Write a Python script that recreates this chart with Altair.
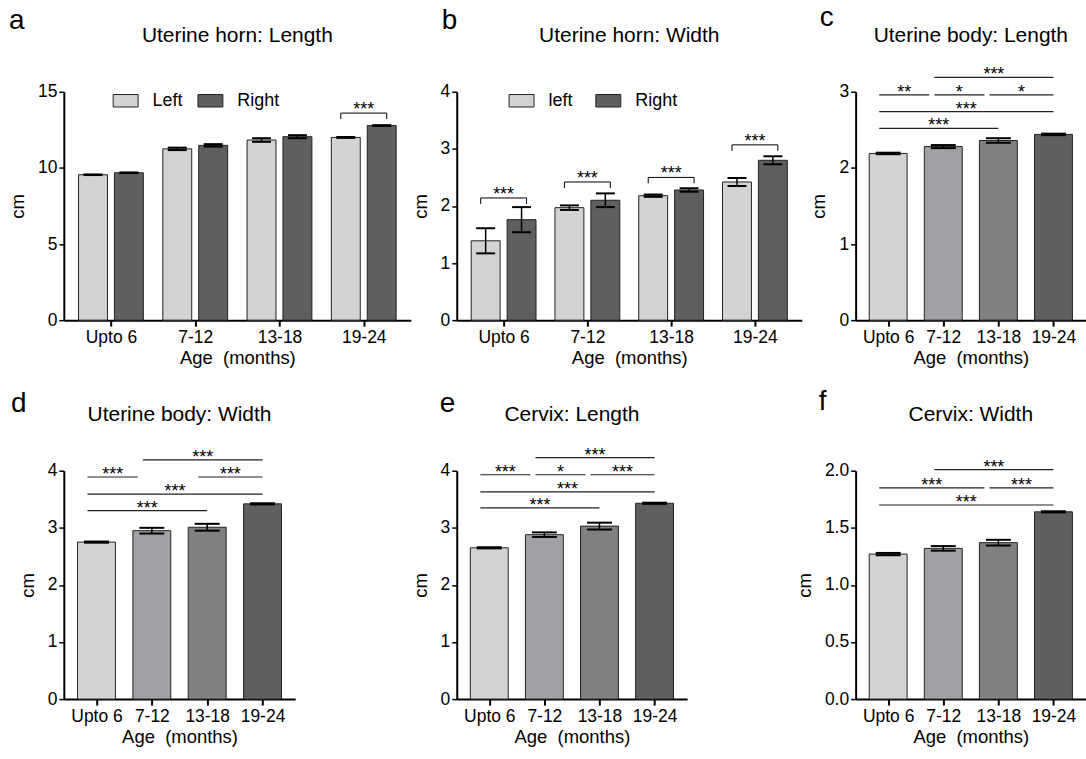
import altair as alt
import pandas as pd

FONT = "Liberation Sans"

cats = ["Upto 6", "7-12", "13-18", "19-24"]
idx = [0, 1, 2, 3]
grays = ["#d3d3d3", "#a1a1a5", "#808080", "#5f5f5f"]
pair_colors = ["#d3d3d3", "#5f5f5f"]

# ---- a: Uterine horn length (left / right)
a_left = [9.55, 11.25, 11.83, 12.00]
a_left_err = [0.02, 0.08, 0.12, 0.03]
a_right = [9.68, 11.48, 12.05, 12.78]
a_right_err = [0.02, 0.08, 0.10, 0.03]
a_br_idx = [3]
a_br_y = [13.6]
a_br_lab = ["***"]

# ---- b: Uterine horn width (left / right)
b_left = [1.39, 1.97, 2.18, 2.42]
b_left_err = [0.22, 0.04, 0.02, 0.07]
b_right = [1.76, 2.10, 2.28, 2.80]
b_right_err = [0.22, 0.12, 0.03, 0.07]
b_br_idx = [0, 1, 2, 3]
b_br_y = [2.14, 2.42, 2.50, 3.07]
b_br_lab = ["***", "***", "***", "***"]

# ---- c: Uterine body length
c_vals = [2.19, 2.28, 2.36, 2.44]
c_err = [0.01, 0.02, 0.03, 0.01]
c_start = [1, 0, 1, 2, 0, 0]
c_end = [3, 1, 2, 3, 3, 2]
c_y = [3.19, 2.96, 2.96, 2.96, 2.74, 2.52]
c_lab = ["***", "**", "*", "*", "***", "***"]
c_short = [0, 1, 1, 0, 0, 0]

# ---- d: Uterine body width
d_vals = [2.75, 2.95, 3.01, 3.42]
d_err = [0.01, 0.05, 0.06, 0.01]
d_start = [1, 0, 2, 0, 0]
d_end = [3, 1, 3, 3, 2]
d_y = [4.19, 3.89, 3.89, 3.59, 3.30]
d_lab = ["***", "***", "***", "***", "***"]
d_short = [0, 1, 0, 0, 0]

# ---- e: Cervix length
e_vals = [2.65, 2.88, 3.03, 3.43]
e_err = [0.01, 0.04, 0.06, 0.01]
e_start = [1, 0, 1, 2, 0, 0]
e_end = [3, 1, 2, 3, 3, 2]
e_y = [4.23, 3.93, 3.93, 3.93, 3.63, 3.35]
e_lab = ["***", "***", "*", "***", "***", "***"]
e_short = [0, 1, 1, 0, 0, 0]

# ---- f: Cervix width
f_vals = [1.27, 1.32, 1.37, 1.64]
f_err = [0.01, 0.02, 0.025, 0.005]
f_start = [1, 0, 2, 0]
f_end = [3, 2, 3, 3]
f_y = [2.01, 1.85, 1.85, 1.70]
f_lab = ["***", "***", "***", "***"]
f_short = [0, 1, 0, 0]

label_expr = "[" + ",".join("'" + c + "'" for c in cats) + "][datum.value]"
X_TITLE = "Age\u00a0\u00a0(months)"


def x_enc(field, width_range):
    return alt.X(
        field,
        scale=alt.Scale(domain=[-0.5, 3.5], nice=False, zero=False, range=width_range),
        axis=alt.Axis(values=idx, labelExpr=label_expr, title=X_TITLE, labelAngle=0,
                      tickSize=6, tickWidth=2, labelPadding=2, titlePadding=3,
                      labelOverlap=False, labelFlush=False, grid=False),
    )


def y_enc(field, ydom, yvals, fmt):
    return alt.Y(
        field,
        scale=alt.Scale(domain=ydom, nice=False, zero=True),
        axis=alt.Axis(values=yvals, format=fmt, title="cm", tickSize=5, tickWidth=1.5,
                      labelPadding=2, titlePadding=10, grid=False),
        stack=None,
    )


def text_layer(text, lx, ly, size, align):
    return alt.Chart(pd.DataFrame({"t": [text]})).mark_text(
        font=FONT, fontSize=size, align=align, baseline="alphabetic", color="black"
    ).encode(text="t:N", x=alt.value(lx), y=alt.value(ly))


def head_layers(title, letter, letter_pos, center):
    return [text_layer(letter, letter_pos[0], letter_pos[1], 28, "left"),
            text_layer(title, center, -50, 21, "center")]


def grouped_panel(title, letter, letter_pos, names, left, left_err, right, right_err,
                  br_idx, br_y, br_lab, ydom, yvals, fmt, width, prange, legend_x, col_pad):
    rng = [0, prange]
    layers = []
    for side, vals, errs, off in [(names[0], left, left_err, -18), (names[1], right, right_err, 18)]:
        df = pd.DataFrame({
            "idx": idx,
            "val": vals,
            "lo": [v - e for v, e in zip(vals, errs)],
            "hi": [v + e for v, e in zip(vals, errs)],
            "side": [side] * 4,
        })
        base = alt.Chart(df)
        layers.append(base.mark_bar(size=29, xOffset=off, stroke="#222", strokeWidth=1).encode(
            x=x_enc("idx:Q", rng),
            y=y_enc("val:Q", ydom, yvals, fmt),
            color=alt.Color("side:N", scale=alt.Scale(domain=names, range=pair_colors),
                            legend=alt.Legend(title=None, orient="none", direction="horizontal",
                                              legendX=legend_x, legendY=-4,
                                              symbolType="M-1,-0.5H1V0.5H-1Z", symbolSize=625,
                                              symbolStrokeColor="#222", symbolStrokeWidth=1,
                                              symbolOpacity=1,
                                              labelFontSize=18, labelFont=FONT, labelColor="black",
                                              labelOffset=14, columnPadding=col_pad)),
        ))
        layers.append(base.mark_rule(xOffset=off, strokeWidth=1.5, color="black").encode(
            x=x_enc("idx:Q", rng), y=y_enc("lo:Q", ydom, yvals, fmt), y2="hi:Q"))
        for fld in ["hi", "lo"]:
            layers.append(base.mark_rule(xOffset=off - 9.5, x2Offset=off + 9.5, strokeWidth=2,
                                         color="black").encode(
                x=x_enc("idx:Q", rng), x2="idx:Q", y=y_enc(fld + ":Q", ydom, yvals, fmt)))
    bdf = pd.DataFrame({"idx": br_idx, "y": br_y, "lab": br_lab})
    bb = alt.Chart(bdf)
    layers.append(bb.mark_rule(xOffset=-23, x2Offset=23, strokeWidth=1, color="black").encode(
        x=x_enc("idx:Q", rng), x2="idx:Q", y=y_enc("y:Q", ydom, yvals, fmt)))
    for off in [-23, 23]:
        layers.append(bb.mark_rule(xOffset=off, y2Offset=6, strokeWidth=1, color="black").encode(
            x=x_enc("idx:Q", rng), y=y_enc("y:Q", ydom, yvals, fmt), y2="y:Q"))
    layers.append(bb.mark_text(dy=2, baseline="alphabetic", fontSize=18, font=FONT, color="black").encode(
        x=x_enc("idx:Q", rng), y=y_enc("y:Q", ydom, yvals, fmt), text="lab:N"))
    layers += head_layers(title, letter, letter_pos, prange / 2)
    return alt.layer(*layers).properties(width=width, height=229)


def single_panel(title, letter, letter_pos, vals, errs, start, end, ys, labs, short,
                 ydom, yvals, fmt, width):
    rng = [0, width]
    df = pd.DataFrame({
        "idx": idx,
        "cat": cats,
        "val": vals,
        "lo": [v - e for v, e in zip(vals, errs)],
        "hi": [v + e for v, e in zip(vals, errs)],
    })
    base = alt.Chart(df)
    layers = [
        base.mark_bar(size=38, stroke="#222", strokeWidth=1).encode(
            x=x_enc("idx:Q", rng),
            y=y_enc("val:Q", ydom, yvals, fmt),
            color=alt.Color("cat:N", scale=alt.Scale(domain=cats, range=grays), legend=None)),
        base.mark_rule(strokeWidth=1.5, color="black").encode(
            x=x_enc("idx:Q", rng), y=y_enc("lo:Q", ydom, yvals, fmt), y2="hi:Q"),
    ]
    for fld in ["hi", "lo"]:
        layers.append(base.mark_rule(xOffset=-12.5, x2Offset=12.5, strokeWidth=2, color="black").encode(
            x=x_enc("idx:Q", rng), x2="idx:Q", y=y_enc(fld + ":Q", ydom, yvals, fmt)))
    cdf = pd.DataFrame({"start": start, "end": end, "yv": ys, "lab": labs, "short": short})
    cb = alt.Chart(cdf).transform_calculate(mid="(datum.start + datum.end) / 2")
    for sflag, x2off in [(0, 0), (1, -14)]:
        sub = cb.transform_filter(f"datum.short == {sflag}")
        layers.append(sub.mark_rule(xOffset=-9, x2Offset=x2off, strokeWidth=1.2, color="#222").encode(
            x=x_enc("start:Q", rng), x2="end:Q", y=y_enc("yv:Q", ydom, yvals, fmt)))
        layers.append(sub.mark_text(dx=(-9 + x2off) / 2, dy=3, baseline="alphabetic", fontSize=18,
                                    font=FONT, color="black").encode(
            x=x_enc("mid:Q", rng), y=y_enc("yv:Q", ydom, yvals, fmt), text="lab:N"))
    layers += head_layers(title, letter, letter_pos, width / 2)
    return alt.layer(*layers).properties(width=width, height=229)


pa = grouped_panel("Uterine horn: Length", "a", (-55, -63), ["Left", "Right"],
                   a_left, a_left_err, a_right, a_right_err, a_br_idx, a_br_y, a_br_lab,
                   [0, 15], [0, 5, 10, 15], "d", 348, 348, 49, 12)
pb = grouped_panel("Uterine horn: Width", "b", (-15, -63), ["left", "Right"],
                   b_left, b_left_err, b_right, b_right_err, b_br_idx, b_br_y, b_br_lab,
                   [0, 4], [0, 1, 2, 3, 4], "d", 354, 346, 52, 20)
pc = single_panel("Uterine body: Length", "c", (-36, -66), c_vals, c_err, c_start, c_end, c_y, c_lab,
                  c_short, [0, 3], [0, 1, 2, 3], "d", 231)
pd_ = single_panel("Uterine body: Width", "d", (-53, -59), d_vals, d_err, d_start, d_end, d_y, d_lab,
                   d_short, [0, 4], [0, 1, 2, 3, 4], "d", 232)
pe = single_panel("Cervix: Length", "e", (-17, -59), e_vals, e_err, e_start, e_end, e_y, e_lab,
                  e_short, [0, 4], [0, 1, 2, 3, 4], "d", 231)
pf = single_panel("Cervix: Width", "f", (-37, -61), f_vals, f_err, f_start, f_end, f_y, f_lab,
                  f_short, [0, 2], [0, 0.5, 1.0, 1.5, 2.0], ".1f", 231)

chart = alt.concat(
    pa, pb, pc, pd_, pe, pf,
    columns=3,
    spacing={"row": 151, "column": 46},
    bounds="flush",
).resolve_scale(
    x="independent", y="independent", color="independent"
).resolve_legend(
    color="independent"
).properties(
    padding={"left": 8, "top": 3, "right": 0, "bottom": 0},
    background="white",
).configure_view(
    stroke=None
).configure_axis(
    domainWidth=2, domainColor="black", tickColor="black",
    labelColor="black", titleColor="black",
    labelFont=FONT, titleFont=FONT, labelFontSize=17.5, titleFontSize=18.5,
    titleFontWeight="normal",
).configure_text(font=FONT)

chart.save("out.html", embed_options={"renderer": "svg", "actions": False})
